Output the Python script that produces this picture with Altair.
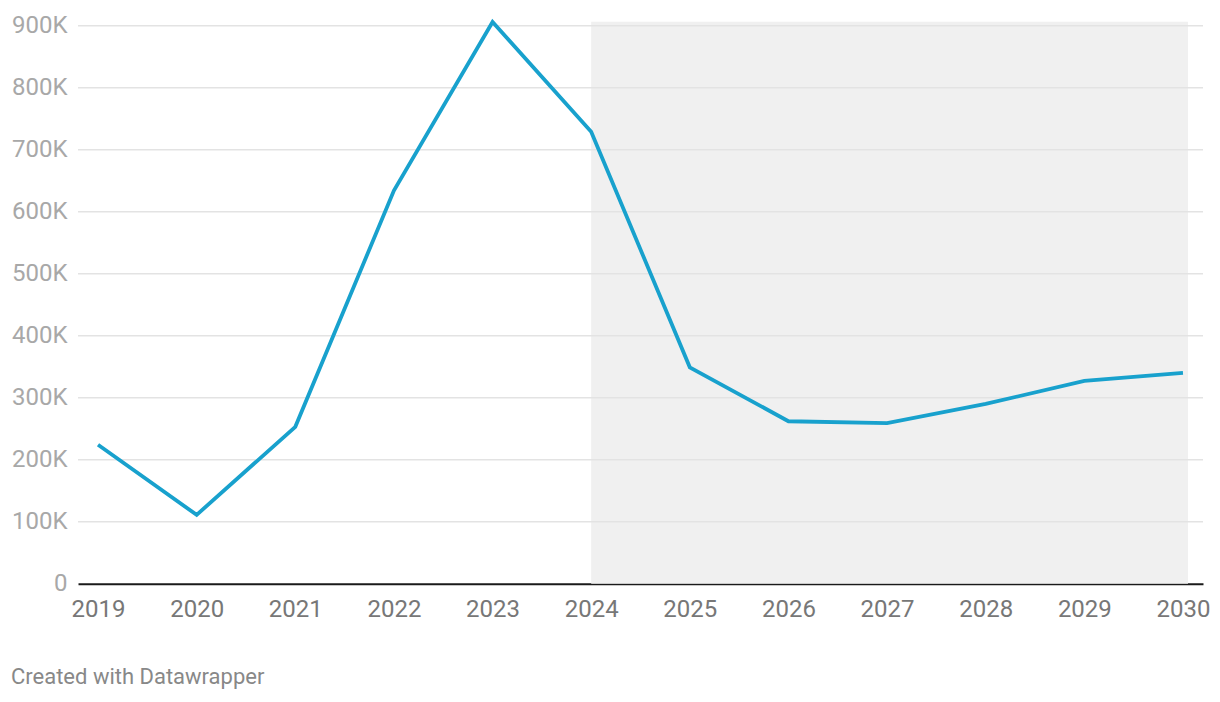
import altair as alt
import pandas as pd

years = [2019, 2020, 2021, 2022, 2023, 2024, 2025, 2026, 2027, 2028, 2029, 2030]
values = [224000, 111000, 253000, 634000, 906000, 729000, 349000, 262000, 259000, 290000, 327000, 340000]
y_ticks = [0, 100000, 200000, 300000, 400000, 500000, 600000, 700000, 800000, 900000]
forecast_start = [2024]
forecast_end = [2030]
footer = "Created with Datawrapper"

FONT = "Roboto"
W, H = 1125, 558
df = pd.DataFrame({"year": years, "value": values})
band = pd.DataFrame({"start": forecast_start, "end": forecast_end, "base": [0]})
ticks_df = pd.DataFrame({"tick": y_ticks[1:]})

xscale = alt.Scale(domain=[2018.797, 2030.203], nice=False, zero=False)
yscale = alt.Scale(domain=[0, 900000], nice=False)

x_axis = alt.Axis(values=years, format="d", title=None, grid=False, ticks=False,
                  domain=True, domainColor="#1a1a1a", domainWidth=2,
                  labelFont=FONT, labelFontSize=24, labelColor="#777777",
                  labelPadding=14)
y_axis = alt.Axis(values=y_ticks, title=None, grid=False,
                  ticks=False, domain=False, labelFont=FONT, labelFontSize=24,
                  labelColor="#a8a8a8", labelPadding=11,
                  labelExpr="datum.value == 0 ? '0' : format(datum.value/1000, 'd') + 'K'")

shade = alt.Chart(band).mark_rect(color="#f0f0f0", x2Offset=5).encode(
    x=alt.X("start:Q", scale=xscale, axis=x_axis),
    x2="end:Q",
    y=alt.Y("base:Q", scale=yscale, axis=y_axis),
    y2=alt.value(-4),
)

grid = alt.Chart(ticks_df).mark_rule(color="#e3e3e3", strokeWidth=1.5).encode(
    y=alt.Y("tick:Q", scale=yscale, axis=y_axis),
    x=alt.value(0),
    x2=alt.value(W),
)

line = alt.Chart(df).mark_line(color="#18a1cd", strokeWidth=3.8, strokeJoin="miter").encode(
    x=alt.X("year:Q", scale=xscale, axis=x_axis),
    y=alt.Y("value:Q", scale=yscale, axis=y_axis),
)

foot = alt.Chart(pd.DataFrame({"t": [footer]})).mark_text(
    align="left", baseline="middle", font=FONT, fontSize=22, color="#888888"
).encode(text="t:N", x=alt.value(-67), y=alt.value(651))

chart = alt.layer(shade, grid, line, foot).properties(
    width=W, height=H,
    autosize=alt.AutoSizeParams(type="none"),
    padding={"left": 70, "top": 17.7, "right": 9, "bottom": 110},
).configure(background="white").configure_view(strokeWidth=0, stroke="transparent")

chart.save("out.html", embed_options={"renderer": "svg", "actions": False})
